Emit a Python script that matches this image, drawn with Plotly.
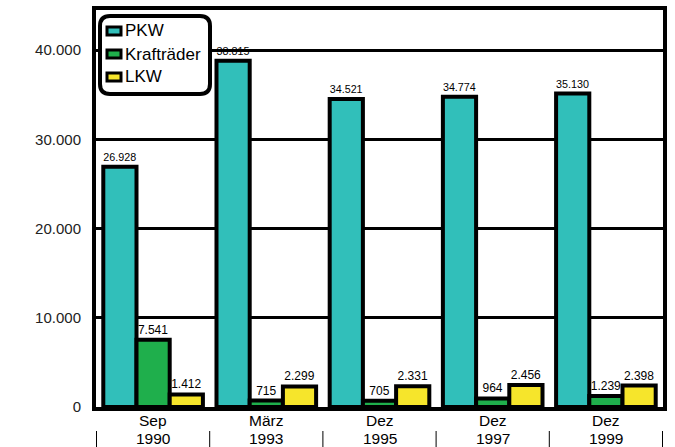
import plotly.graph_objects as go

months = ["Sep", "März", "Dez", "Dez", "Dez"]
years = ["1990", "1993", "1995", "1997", "1999"]
categories = [f"{m} {y}" for m, y in zip(months, years)]
pkw = [26928, 38815, 34521, 34774, 35130]
kraftraeder = [7541, 715, 705, 964, 1239]
lkw = [1412, 2299, 2331, 2456, 2398]
y_ticks = [0, 10000, 20000, 30000, 40000]
series_names = ["PKW", "Krafträder", "LKW"]
colors = ["#31BFBA", "#1FAF4C", "#F6E52B"]

PW, PH = 567, 397  # plot area in px

fig = go.Figure()
for name, vals, col in zip(series_names, [pkw, kraftraeder, lkw], colors):
    fig.add_trace(go.Bar(
        name=name, x=categories, y=vals,
        marker=dict(color=col, line=dict(color="black", width=4)),
        texttemplate="%{y:,}", textposition="outside",
        textfont=dict(size=12, color="black"), cliponaxis=False,
        showlegend=False,
    ))

shapes = []
annotations = []

def px_x(p):
    return (p - 96) / PW

def px_y(p):
    return (407 - p) / PH

# separator ticks beneath category labels
for i in range(len(categories) + 1):
    shapes.append(dict(type="line", xref="x", yref="paper", x0=i - 0.5, x1=i - 0.5,
                       y0=px_y(431), y1=px_y(447), line=dict(color="black", width=1)))
# two-line category labels
for cat, m, yr in zip(categories, months, years):
    annotations.append(dict(xref="x", yref="paper", x=cat, y=px_y(411), yanchor="top",
                            text=m, showarrow=False, borderpad=0,
                            font=dict(size=15.5, color="black")))
    annotations.append(dict(xref="x", yref="paper", x=cat, y=px_y(429), yanchor="top",
                            text=yr, showarrow=False, borderpad=0,
                            font=dict(size=15.5, color="black")))

# rounded legend box
x0, x1, y0, y1 = px_x(100), px_x(210), px_y(94), px_y(16)
rx, ry = 10 / PW, 10 / PH
path = (f"M {x0+rx},{y1} L {x1-rx},{y1} Q {x1},{y1} {x1},{y1-ry} "
        f"L {x1},{y0+ry} Q {x1},{y0} {x1-rx},{y0} L {x0+rx},{y0} "
        f"Q {x0},{y0} {x0},{y0+ry} L {x0},{y1-ry} Q {x0},{y1} {x0+rx},{y1} Z")
shapes.append(dict(type="path", xref="paper", yref="paper", path=path,
                   line=dict(color="black", width=4), fillcolor="white", layer="above"))
for k, (name, col) in enumerate(zip(series_names, colors)):
    cy = 31 + k * 23
    shapes.append(dict(type="rect", xref="paper", yref="paper",
                       x0=px_x(107), x1=px_x(121), y0=px_y(cy + 4), y1=px_y(cy - 4),
                       fillcolor=col, line=dict(color="black", width=3), layer="above"))
    annotations.append(dict(xref="paper", yref="paper", x=px_x(123), y=px_y(cy),
                            xanchor="left", yanchor="middle", text=name, showarrow=False,
                            font=dict(size=17, color="black")))

fig.update_layout(
    width=675, height=447,
    margin=dict(l=96, r=12, t=10, b=40, autoexpand=False),
    paper_bgcolor="white", plot_bgcolor="white",
    barmode="group", bargap=0.12, bargroupgap=0,
    separators=",.",
    font=dict(family="Liberation Sans, Arial, sans-serif", color="black"),
    shapes=shapes, annotations=annotations,
    xaxis=dict(showline=True, linecolor="black", linewidth=4, mirror=True, automargin=False,
               showticklabels=False, ticks="", showgrid=False),
    yaxis=dict(range=[0, 44500], tickvals=y_ticks, tickformat=",d", automargin=False,
               showline=True, linecolor="black", linewidth=4, mirror=True,
               showgrid=True, gridcolor="black", gridwidth=3,
               zeroline=False, ticks="", ticklabelstandoff=8,
               tickfont=dict(size=15, color="#222222")),
)

fig.write_html("out.html", config={"displayModeBar": False},
               post_script="document.body.style.margin='0px';")
